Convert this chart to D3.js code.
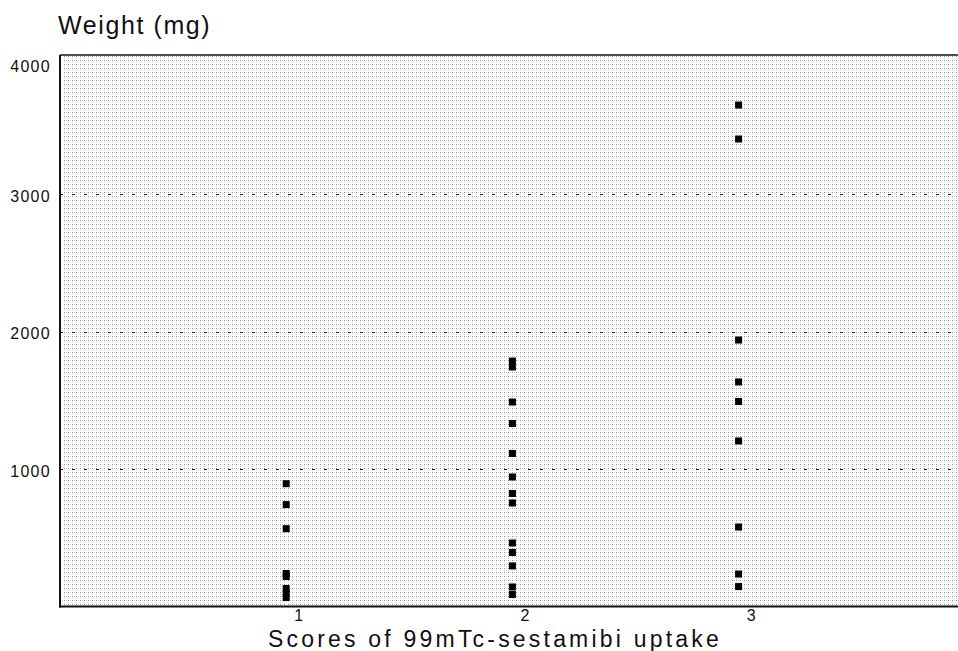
<!DOCTYPE html>
<html>
<head>
<meta charset="utf-8">
<script src="https://cdn.jsdelivr.net/npm/d3@7"></script>
<style>
  html, body { margin: 0; padding: 0; background: #fff; }
  svg { display: block; }
  text { font-family: "Liberation Sans", Arial, Helvetica, sans-serif; fill: #111; }
</style>
</head>
<body>
<svg id="chart" width="958" height="651"></svg>
<script>
// ---- data ----
const score1 = [893, 741, 566, 240, 218, 131, 94, 65];
const score2 = [1785, 1742, 1487, 1331, 1113, 942, 822, 753, 462, 393, 295, 142, 87];
const score3 = [3647, 3400, 1938, 1633, 1491, 1204, 578, 236, 145];
const scores = [1, 2, 3];
const yTicks = [1000, 2000, 3000, 4000];
const yTitle = "Weight (mg)";
const xTitle = "Scores of 99mTc-sestamibi uptake";

(function () {
const series = [score1, score2, score3];
const points = [];
series.forEach((vals, i) => vals.forEach(v => points.push({ score: scores[i], weight: v })));

// ---- layout ----
const svg = d3.select("#chart");
const mLeft = 60, mTop = 55, mRight = 958, mBottom = 606.5;

const x = d3.scaleLinear().domain([0, 3.97]).range([mLeft, mRight]);
const y = d3.scaleLinear().domain([0, 4000]).range([mBottom, 56.5]);

// background dot texture
const defs = svg.append("defs");
const pat = defs.append("pattern")
  .attr("id", "dots").attr("patternUnits", "userSpaceOnUse")
  .attr("width", 4).attr("height", 4);
pat.append("rect").attr("x", 0).attr("y", 0).attr("width", 1).attr("height", 1).attr("fill", "#929292");
pat.append("rect").attr("x", 2).attr("y", 0).attr("width", 1).attr("height", 1).attr("fill", "#dcdcdc");
pat.append("rect").attr("x", 0).attr("y", 2).attr("width", 1).attr("height", 1).attr("fill", "#d8d8d8");

svg.append("rect")
  .attr("x", mLeft).attr("y", mTop)
  .attr("width", mRight - mLeft).attr("height", mBottom - mTop)
  .attr("fill", "url(#dots)");

// dotted gridlines
svg.append("g").selectAll("line")
  .data(yTicks.filter(d => d < 4000))
  .join("line")
  .attr("x1", mLeft).attr("x2", mRight)
  .attr("y1", d => Math.round(y(d)) + 0.5).attr("y2", d => Math.round(y(d)) + 0.5)
  .attr("stroke", "#222").attr("stroke-width", 1)
  .attr("stroke-dasharray", "3,9");

// frame
svg.append("line").attr("x1", mLeft).attr("x2", mLeft).attr("y1", mTop).attr("y2", mBottom + 1)
  .attr("stroke", "#111").attr("stroke-width", 2);
svg.append("line").attr("x1", mLeft).attr("x2", mRight).attr("y1", mTop).attr("y2", mTop)
  .attr("stroke", "#111").attr("stroke-width", 1.6);
svg.append("line").attr("x1", mLeft - 1).attr("x2", mRight).attr("y1", mBottom).attr("y2", mBottom)
  .attr("stroke", "#111").attr("stroke-width", 2);

// y axis (labels only)
const yAxis = d3.axisLeft(y).tickValues(yTicks).tickFormat(d3.format("d")).tickSize(0).tickPadding(0);
const gy = svg.append("g").attr("transform", `translate(${mLeft - 9},0)`).call(yAxis);
gy.attr("font-size", null).attr("font-family", null);
gy.select(".domain").remove();
gy.selectAll("text")
  .attr("font-size", 16).attr("letter-spacing", 1.3)
  .attr("fill", "#111")
  .attr("dy", d => d === 4000 ? "0.95em" : "0.45em");

// x axis (labels only)
const xAxis = d3.axisBottom(x).tickValues(scores).tickFormat(d3.format("d")).tickSize(0).tickPadding(0);
const gx = svg.append("g").attr("transform", `translate(0,${mBottom + 3})`).call(xAxis);
gx.attr("font-size", null).attr("font-family", null);
gx.select(".domain").remove();
gx.selectAll("text")
  .attr("font-size", 16).attr("dx", 12).attr("dy", "0.71em")
  .attr("fill", "#111");

// points
const s = 7;
svg.append("g").selectAll("rect")
  .data(points)
  .join("rect")
  .attr("x", d => x(d.score) - s / 2)
  .attr("y", d => y(d.weight) - s / 2)
  .attr("width", s).attr("height", s)
  .attr("fill", "#000");

// titles
svg.append("text").attr("x", 58).attr("y", 34)
  .attr("font-size", 25).attr("letter-spacing", 1.6)
  .text(yTitle);
svg.append("text").attr("x", 268).attr("y", 646.5)
  .attr("font-size", 23).attr("letter-spacing", 3.2)
  .text(xTitle);
})();
</script>
</body>
</html>
